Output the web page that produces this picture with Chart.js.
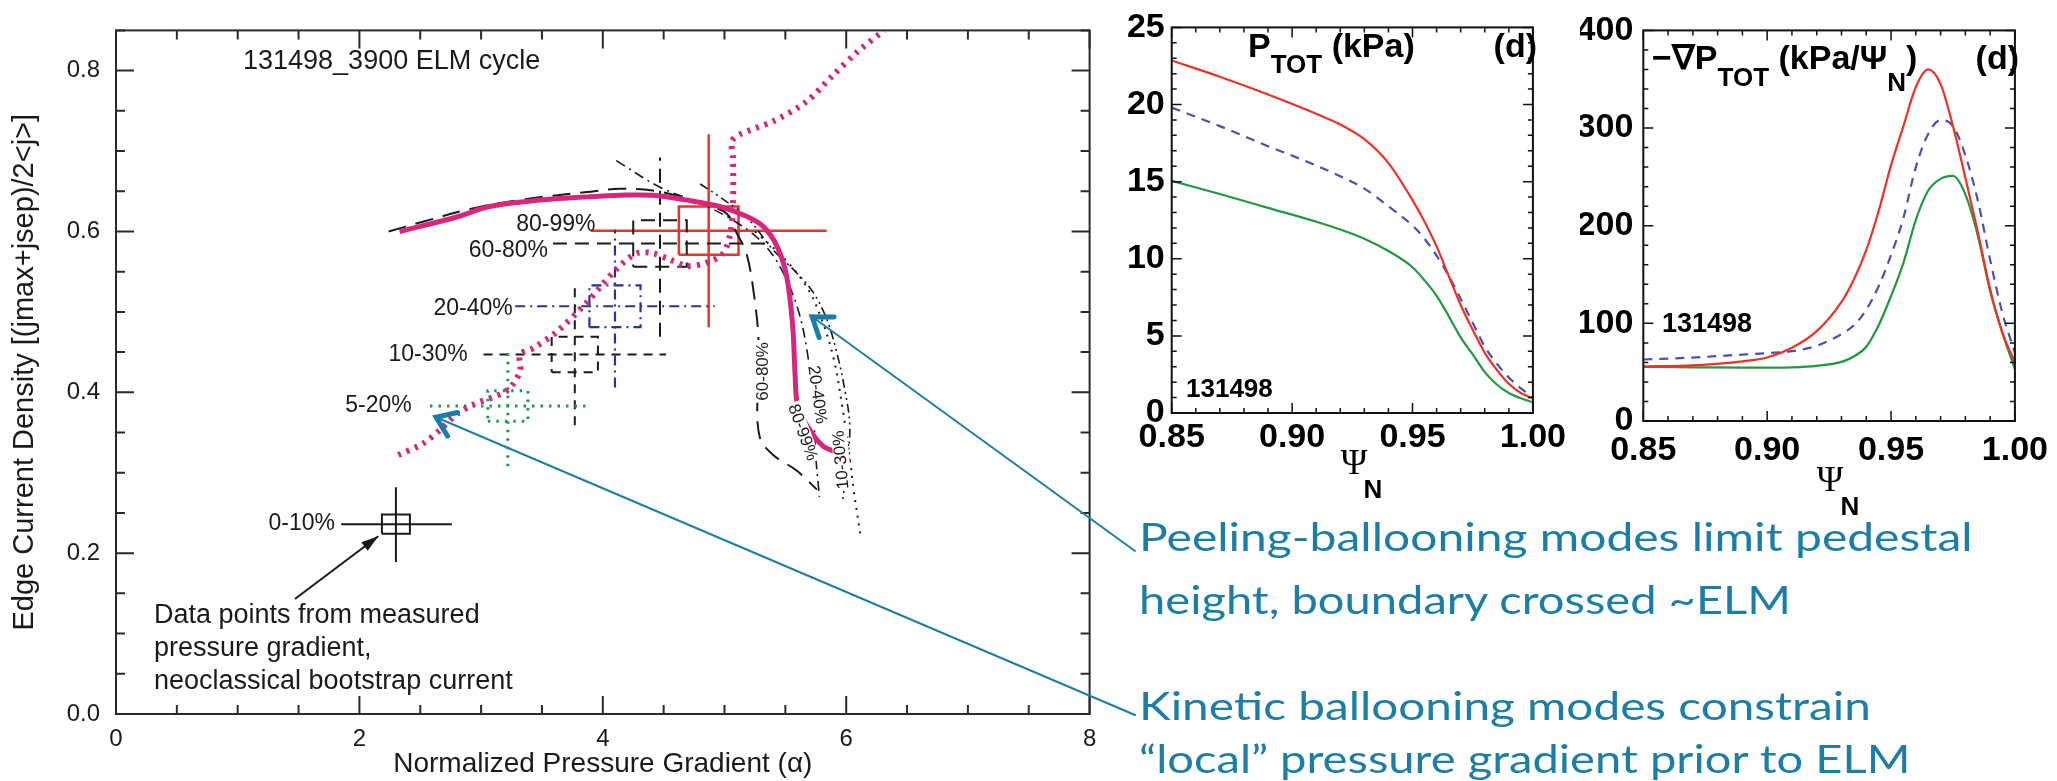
<!DOCTYPE html>
<html>
<head>
<meta charset="utf-8">
<script src="https://cdn.jsdelivr.net/npm/chart.js@4.4.1/dist/chart.umd.min.js"></script>
<style>
body { margin: 0; background: #fff; width: 2057px; height: 781px; overflow: hidden; position: relative; }
canvas { position: absolute; }
.note { position: absolute; left: 1139px; color: #1b7ea6; font-family: Lato, "Open Sans", sans-serif; font-size: 39px; line-height: 39px; white-space: nowrap; transform-origin: 0 0; }
</style>
</head>
<body>
<canvas id="elm" width="1140" height="781" style="left:0;top:0"></canvas>
<canvas id="ptot" width="480" height="520" style="left:1090px;top:0"></canvas>
<canvas id="gradp" width="477" height="520" style="left:1580px;top:0"></canvas>
<script>
// ---- left panel: ELM cycle in j - alpha space ----
const alphaTicks = [0, 2, 4, 6, 8];
const jTicks = [0, 0.2, 0.4, 0.6, 0.8];

const bins = ["0-10%", "5-20%", "10-30%", "20-40%", "60-80%", "80-99%"];
const binAlpha = [2.30, 3.22, 3.77, 4.10, 4.47, 4.87];
const binJ = [0.236, 0.383, 0.447, 0.507, 0.585, 0.601];
const alphaLow = [1.85, 2.58, 3.02, 3.28, 3.59, 3.90];
const alphaHigh = [2.76, 3.87, 4.52, 4.92, 5.35, 5.84];
const jLow = [0.189, 0.308, 0.359, 0.406, 0.469, 0.481];
const jHigh = [0.282, 0.455, 0.533, 0.602, 0.692, 0.721];
const boxHalfAlpha = [0.115, 0.165, 0.19, 0.21, 0.22, 0.245];
const boxHalfJ = [0.012, 0.019, 0.022, 0.026, 0.029, 0.030];
const binLabelAlpha = [1.80, 2.43, 2.89, 3.26, 3.55, 3.94];
const binLabelJ = [0.237, 0.383, 0.447, 0.504, 0.576, 0.609];

// peeling-ballooning boundary (solid magenta)
const pbAlpha = [2.33, 2.80, 3.07, 3.48, 3.87, 4.14, 4.41, 4.69, 4.96, 5.18, 5.32, 5.43, 5.51, 5.56, 5.58, 5.60, 5.68, 5.81, 5.93, 6.03];
const pbJ = [0.600, 0.618, 0.631, 0.639, 0.643, 0.645, 0.645, 0.639, 0.631, 0.619, 0.606, 0.582, 0.545, 0.483, 0.422, 0.385, 0.358, 0.333, 0.325, 0.314];
// kinetic ballooning boundary (dotted magenta)
const kbAlpha = [2.32, 2.52, 2.66, 2.80, 2.94, 3.21, 3.32, 3.32, 3.43, 3.62, 3.87, 4.11, 4.28, 4.41, 4.55, 4.69, 4.85, 4.99, 5.05, 5.07, 5.07, 5.06, 5.13, 5.40, 5.67, 5.89, 6.09, 6.31];
const kbJ = [0.322, 0.336, 0.353, 0.373, 0.385, 0.402, 0.426, 0.447, 0.455, 0.475, 0.512, 0.553, 0.573, 0.573, 0.565, 0.557, 0.561, 0.573, 0.600, 0.635, 0.692, 0.712, 0.721, 0.737, 0.761, 0.794, 0.823, 0.850];
// stability contours
const c6080Alpha = [2.24, 2.52, 2.94, 3.35, 3.87, 4.14, 4.41, 4.69, 4.85, 5.02, 5.10, 5.18, 5.24, 5.28, 5.27, 5.29, 5.40, 5.59, 5.76];
const c6080J = [0.600, 0.612, 0.629, 0.640, 0.649, 0.653, 0.651, 0.641, 0.633, 0.622, 0.598, 0.573, 0.524, 0.463, 0.400, 0.344, 0.322, 0.303, 0.279];
const c2040Alpha = [4.11, 4.47, 4.80, 5.07, 5.30, 5.46, 5.60, 5.68, 5.73, 5.75, 5.78];
const c2040J = [0.688, 0.655, 0.635, 0.614, 0.588, 0.555, 0.505, 0.450, 0.380, 0.320, 0.270];
const c1030Alpha = [4.80, 4.96, 5.18, 5.40, 5.59, 5.73, 5.84, 5.92, 5.99, 6.03, 6.00, 5.97];
const c1030J = [0.659, 0.643, 0.618, 0.577, 0.549, 0.524, 0.491, 0.451, 0.402, 0.357, 0.303, 0.263];
const cDotAlpha = [5.25, 5.50, 5.68, 5.80, 5.90, 5.97, 6.02, 6.06, 6.12];
const cDotJ = [0.600, 0.565, 0.530, 0.490, 0.440, 0.380, 0.330, 0.280, 0.220];
const contourLabels = ["60-80%", "80-99%", "20-40%", "10-30%"];
const contourLabelAlpha = [5.32, 5.64, 5.76, 5.96];
const contourLabelJ = [0.426, 0.350, 0.397, 0.316];
const contourLabelRot = [-90, 70, 82, -95];

// annotation arrow tips (data units)
const tealTipAlpha = [5.72, 2.63];
const tealTipJ = [0.494, 0.369];

// ---- right panels: profiles vs psi_N ----
const psiTicks = [0.85, 0.90, 0.95, 1.00];
const pTicks = [0, 5, 10, 15, 20, 25];
const gradTicks = [0, 100, 200, 300, 400];

const psiP = [0.85, 0.87, 0.89, 0.91, 0.92, 0.93, 0.94, 0.95, 0.955, 0.96, 0.965, 0.97, 0.975, 0.98, 0.985, 0.99, 0.995, 1.00];
const pRed = [22.85, 21.8, 20.65, 19.4, 18.7, 17.75, 16.2, 13.8, 12.4, 10.8, 8.9, 7.0, 5.4, 3.9, 2.8, 1.9, 1.3, 0.95];
const pBlue = [19.8, 18.6, 17.3, 16.05, 15.35, 14.55, 13.4, 12.15, 11.3, 10.2, 8.9, 7.4, 5.85, 4.3, 3.2, 2.3, 1.6, 1.0];
const pGreen = [15.05, 14.2, 13.3, 12.4, 11.9, 11.3, 10.5, 9.45, 8.6, 7.6, 6.3, 4.9, 3.8, 2.65, 1.85, 1.3, 0.95, 0.7];

const psiG = [0.85, 0.87, 0.89, 0.90, 0.91, 0.92, 0.93, 0.935, 0.94, 0.945, 0.95, 0.955, 0.96, 0.965, 0.97, 0.975, 0.98, 0.985, 0.99, 0.995, 1.00];
const gRed = [56, 57, 61, 65, 75, 92, 122, 145, 175, 215, 262, 302, 342, 360, 345, 302, 249, 194, 135, 90, 60];
const gBlue = [63, 65, 68, 69.5, 71.5, 77, 89, 98, 114, 138, 170, 208, 260, 294, 308, 302, 272, 226, 165, 110, 70];
const gGreen = [55.5, 55, 54.6, 54.7, 55, 56.5, 60.5, 66, 76, 98, 128, 162, 206, 236, 248, 251, 232, 190, 133, 90, 53];

const noteLines = [
    "Peeling-ballooning modes limit pedestal",
    "height, boundary crossed ~ELM",
    "Kinetic ballooning modes constrain",
    "\u201clocal\u201d pressure gradient prior to ELM"
];

const SANS = "'Liberation Sans', Arial, sans-serif";
const MAGENTA = "#d9267c";
const TEAL = "#1b7ea6";

function series(xs, ys, color, width, dash, tension) {
    return {
        data: xs.map((x, i) => ({ x: x, y: ys[i] })),
        showLine: true,
        borderColor: color,
        borderWidth: width,
        borderDash: dash || [],
        pointRadius: 0,
        tension: tension || 0,
        fill: false
    };
}

// inward ticks on all four sides plus the box
const framePlugin = {
    id: "frame",
    afterDraw(chart) {
        const o = chart.options.plugins.frame;
        const { ctx, chartArea: a, scales: { x, y } } = chart;
        ctx.save();
        ctx.strokeStyle = o.color;
        ctx.lineWidth = o.width;
        ctx.strokeRect(a.left, a.top, a.right - a.left, a.bottom - a.top);
        ctx.lineWidth = o.tickWidth;
        ctx.beginPath();
        let n = Math.round((x.max - x.min) / o.xMinor);
        for (let i = 0; i <= n; i++) {
            const v = x.min + i * o.xMinor;
            const major = Math.abs(v / o.xMajor - Math.round(v / o.xMajor)) < 1e-6;
            const len = major ? o.majorLen : o.minorLen;
            const px = x.getPixelForValue(v);
            ctx.moveTo(px, a.bottom); ctx.lineTo(px, a.bottom - len);
            ctx.moveTo(px, a.top); ctx.lineTo(px, a.top + len);
        }
        n = Math.floor((y.max - y.min) / o.yMinor + 1e-6);
        for (let i = 0; i <= n; i++) {
            const v = y.min + i * o.yMinor;
            const major = Math.abs(v / o.yMajor - Math.round(v / o.yMajor)) < 1e-6;
            const len = major ? o.majorLen : o.minorLen;
            const py = y.getPixelForValue(v);
            ctx.moveTo(a.left, py); ctx.lineTo(a.left + len, py);
            ctx.moveTo(a.right, py); ctx.lineTo(a.right - len, py);
        }
        ctx.stroke();
        ctx.restore();
    }
};

function drawParts(ctx, x, parts) {
    parts.forEach(p => {
        ctx.font = p.font;
        ctx.fillText(p.t, x, p.y);
        x += ctx.measureText(p.t).width;
    });
}

function arrowHead(ctx, tx, ty, fx, fy, len, spread) {
    const ang = Math.atan2(fy - ty, fx - tx);
    ctx.moveTo(tx + len * Math.cos(ang + spread), ty + len * Math.sin(ang + spread));
    ctx.lineTo(tx, ty);
    ctx.lineTo(tx + len * Math.cos(ang - spread), ty + len * Math.sin(ang - spread));
}

// ---- left chart ----
const binColor = ["#1a1a1a", "#1f9a4b", "#1a1a1a", "#2e3192", "#1a1a1a", "#e8342b"];
const binDash = [[], [2.5, 6], [9, 7], [10, 5, 2, 5], [14, 8], []];
const binWidth = [2, 3, 2, 2.2, 2, 2.5];

let elmSets = [
    series(pbAlpha, pbJ, MAGENTA, 5, [], 0.35),
    series(kbAlpha, kbJ, MAGENTA, 6, [3, 6], 0.3),
    series(c6080Alpha, c6080J, "#1a1a1a", 2, [18, 10], 0.35),
    series(c2040Alpha, c2040J, "#1a1a1a", 1.6, [10, 5, 2, 5], 0.35),
    series(c1030Alpha, c1030J, "#1a1a1a", 1.6, [9, 4, 2, 4, 2, 4], 0.35),
    series(cDotAlpha, cDotJ, "#1a1a1a", 2, [2, 6], 0.35)
];
bins.forEach((b, i) => {
    const c = binColor[i], w = binWidth[i], d = binDash[i];
    elmSets.push(series([alphaLow[i], alphaHigh[i]], [binJ[i], binJ[i]], c, w, d));
    elmSets.push(series([binAlpha[i], binAlpha[i]], [jLow[i], jHigh[i]], c, w, d));
    const x0 = binAlpha[i] - boxHalfAlpha[i], x1 = binAlpha[i] + boxHalfAlpha[i];
    const y0 = binJ[i] - boxHalfJ[i], y1 = binJ[i] + boxHalfJ[i];
    elmSets.push(series([x0, x1, x1, x0, x0], [y0, y0, y1, y1, y0], c, w, d));
});

const elmText = {
    id: "elmText",
    afterDraw(chart) {
        const { ctx, scales: { x, y } } = chart;
        ctx.save();
        ctx.fillStyle = "#1a1a1a";
        ctx.textBaseline = "middle";
        ctx.font = "27px " + SANS;
        ctx.textAlign = "left";
        ctx.fillText("131498_3900 ELM cycle", 243, 62);

        ctx.font = "23px " + SANS;
        ctx.textAlign = "right";
        bins.forEach((b, i) => {
            ctx.fillText(b, x.getPixelForValue(binLabelAlpha[i]), y.getPixelForValue(binLabelJ[i]));
        });

        ctx.font = "17px " + SANS;
        ctx.textAlign = "center";
        contourLabels.forEach((t, i) => {
            ctx.save();
            ctx.translate(x.getPixelForValue(contourLabelAlpha[i]), y.getPixelForValue(contourLabelJ[i]));
            ctx.rotate(contourLabelRot[i] * Math.PI / 180);
            ctx.fillStyle = "#fff";
            const w = ctx.measureText(t).width;
            ctx.fillRect(-w / 2 - 2, -8, w + 4, 16);
            ctx.fillStyle = "#1a1a1a";
            ctx.fillText(t, 0, 0);
            ctx.restore();
        });

        ctx.font = "27px " + SANS;
        ctx.textAlign = "left";
        ctx.textBaseline = "alphabetic";
        ctx.fillText("Data points from measured", 154, 623);
        ctx.fillText("pressure gradient,", 154, 656);
        ctx.fillText("neoclassical bootstrap current", 154, 689);

        // black arrow onto the 0-10% point
        const tx = x.getPixelForValue(2.155), ty = y.getPixelForValue(0.221);
        const fx = x.getPixelForValue(1.47), fy = y.getPixelForValue(0.143);
        ctx.strokeStyle = "#1a1a1a";
        ctx.lineWidth = 2;
        ctx.beginPath();
        ctx.moveTo(fx, fy);
        ctx.lineTo(tx, ty);
        ctx.stroke();
        ctx.beginPath();
        arrowHead(ctx, tx, ty, fx, fy, 18, 0.3);
        ctx.closePath();
        ctx.fill();

        // teal call-out arrows
        const tails = [[1135, 551], [1135, 715]];
        ctx.strokeStyle = TEAL;
        ctx.lineCap = "round";
        tealTipAlpha.forEach((a, i) => {
            const px = x.getPixelForValue(a), py = y.getPixelForValue(tealTipJ[i]);
            ctx.lineWidth = 2;
            ctx.beginPath();
            ctx.moveTo(tails[i][0], tails[i][1]);
            ctx.lineTo(px, py);
            ctx.stroke();
            ctx.lineWidth = 5;
            ctx.beginPath();
            arrowHead(ctx, px, py, tails[i][0], tails[i][1], 22, 0.62);
            ctx.stroke();
        });
        ctx.restore();
    }
};

new Chart(document.getElementById("elm"), {
    type: "scatter",
    data: { datasets: elmSets },
    plugins: [framePlugin, elmText],
    options: {
        responsive: false,
        animation: false,
        events: [],
        layout: { padding: { top: 21, right: 50.4, left: 0, bottom: 0 } },
        plugins: {
            legend: { display: false },
            tooltip: { enabled: false },
            frame: { color: "#2a2a2a", width: 2, tickWidth: 2, xMinor: 0.5, xMajor: 2, yMinor: 0.05, yMajor: 0.2, majorLen: 18, minorLen: 9 }
        },
        scales: {
            x: {
                type: "linear", min: 0, max: 8,
                grid: { display: false, drawTicks: false },
                border: { display: false },
                afterBuildTicks: s => { s.ticks = alphaTicks.map(v => ({ value: v })); },
                afterFit: s => { s.height = 67; },
                ticks: { color: "#1a1a1a", font: { family: SANS, size: 24 }, padding: 11, maxRotation: 0, autoSkip: false, callback: v => String(v) },
                title: { display: true, text: "Normalized Pressure Gradient (\u03b1)", color: "#1a1a1a", font: { family: SANS, size: 28 }, padding: { top: 0, bottom: 0 } }
            },
            y: {
                type: "linear", min: 0, max: 0.85,
                grid: { display: false, drawTicks: false },
                border: { display: false },
                afterBuildTicks: s => { s.ticks = jTicks.map(v => ({ value: v })); },
                afterFit: s => { s.width = 116; },
                ticks: { color: "#1a1a1a", font: { family: SANS, size: 24 }, padding: 16, autoSkip: false, callback: v => v.toFixed(1) },
                title: { display: true, text: "Edge Current Density [(jmax+jsep)/2<j>]", color: "#1a1a1a", font: { family: SANS, size: 29 }, padding: { top: 8, bottom: 0 } }
            }
        }
    }
});

// ---- profile charts ----
function profileChart(id, xs, red, blue, green, yMax, yTicks, yMinor, yMajor, geom, drawTitle) {
    const smooth = (s) => { s.cubicInterpolationMode = "monotone"; return s; };
    return new Chart(document.getElementById(id), {
        type: "scatter",
        data: {
            datasets: [
                smooth(series(xs, red, "#ee3124", 2.2)),
                smooth(series(xs, blue, "#4b4fb3", 2.2, [9, 7])),
                smooth(series(xs, green, "#1f9a3e", 2.2))
            ]
        },
        plugins: [framePlugin, { id: id + "Text", afterDraw: drawTitle }],
        options: {
            responsive: false,
            animation: false,
            events: [],
            layout: { padding: { top: geom.top, right: geom.right, left: 0, bottom: 0 } },
            plugins: {
                legend: { display: false },
                tooltip: { enabled: false },
                frame: { color: "#111", width: 2, tickWidth: 1.5, xMinor: 0.01, xMajor: 0.05, yMinor: yMinor, yMajor: yMajor, majorLen: 10, minorLen: 5 }
            },
            scales: {
                x: {
                    type: "linear", min: 0.85, max: 1.0,
                    grid: { display: false, drawTicks: false },
                    border: { display: false },
                    afterBuildTicks: s => { s.ticks = psiTicks.map(v => ({ value: v })); },
                    afterFit: s => { s.height = geom.xh; },
                    ticks: { color: "#000", font: { family: SANS, size: 34, weight: "bold" }, padding: geom.xpad, maxRotation: 0, autoSkip: false, callback: v => v.toFixed(2) }
                },
                y: {
                    type: "linear", min: 0, max: yMax,
                    grid: { display: false, drawTicks: false },
                    border: { display: false },
                    afterBuildTicks: s => { s.ticks = yTicks.map(v => ({ value: v })); },
                    afterFit: s => { s.width = geom.yw; },
                    ticks: { color: "#000", font: { family: SANS, size: 34, weight: "bold" }, padding: geom.ypad, autoSkip: false, callback: v => String(v) }
                }
            }
        }
    });
}

const B34 = "bold 34px " + SANS, B26 = "bold 26px " + SANS;

profileChart("ptot", psiP, pRed, pBlue, pGreen, 25, pTicks, 1, 5,
    { top: 11, right: 24.3, xh: 107, yw: 81.7, xpad: 4, ypad: 7 },
    function (chart) {
        const ctx = chart.ctx;
        ctx.save();
        ctx.fillStyle = "#000";
        ctx.textBaseline = "alphabetic";
        drawParts(ctx, 158, [{ t: "P", font: B34, y: 57 }, { t: "TOT", font: B26, y: 73 }, { t: " (kPa)", font: B34, y: 57 }]);
        ctx.font = B34;
        ctx.textAlign = "right";
        ctx.fillText("(d)", 447, 57);
        ctx.textAlign = "left";
        ctx.font = "bold 26px " + SANS;
        ctx.fillText("131498", 96, 397);
        ctx.textAlign = "center";
        ctx.font = "36px 'Liberation Serif', serif";
        ctx.fillText("\u03a8", 264, 474);
        ctx.font = B26;
        ctx.fillText("N", 283, 498);
        ctx.restore();
    });

profileChart("gradp", psiG, gRed, gBlue, gGreen, 400, gradTicks, 20, 100,
    { top: 22.7, right: 26.3, xh: 99, yw: 63.3, xpad: 9, ypad: 10 },
    function (chart) {
        const ctx = chart.ctx;
        ctx.save();
        ctx.fillStyle = "#000";
        ctx.textBaseline = "alphabetic";
        drawParts(ctx, 72, [
            { t: "\u2212\u2207P", font: B34, y: 69 }, { t: "TOT", font: B26, y: 86 },
            { t: " (kPa/\u03a8", font: B34, y: 69 }, { t: "N", font: B26, y: 91 }, { t: ")", font: B34, y: 69 }
        ]);
        ctx.font = B34;
        ctx.textAlign = "right";
        ctx.fillText("(d)", 439, 69);
        ctx.textAlign = "left";
        ctx.font = "bold 27px " + SANS;
        ctx.fillText("131498", 82, 332);
        ctx.textAlign = "center";
        ctx.font = "36px 'Liberation Serif', serif";
        ctx.fillText("\u03a8", 250, 491);
        ctx.font = B26;
        ctx.fillText("N", 270, 515);
        ctx.restore();
    });

// ---- call-out text on the lower right ----
const noteWidth = [833, 652, 732, 771];
const noteTop = [517, 580, 686, 739];
noteLines.forEach((txt, i) => {
    const d = document.createElement("div");
    d.className = "note";
    d.textContent = txt;
    d.style.top = noteTop[i] + "px";
    document.body.appendChild(d);
    d.style.transform = "scaleX(" + (noteWidth[i] / d.offsetWidth) + ")";
});
</script>
</body>
</html>
